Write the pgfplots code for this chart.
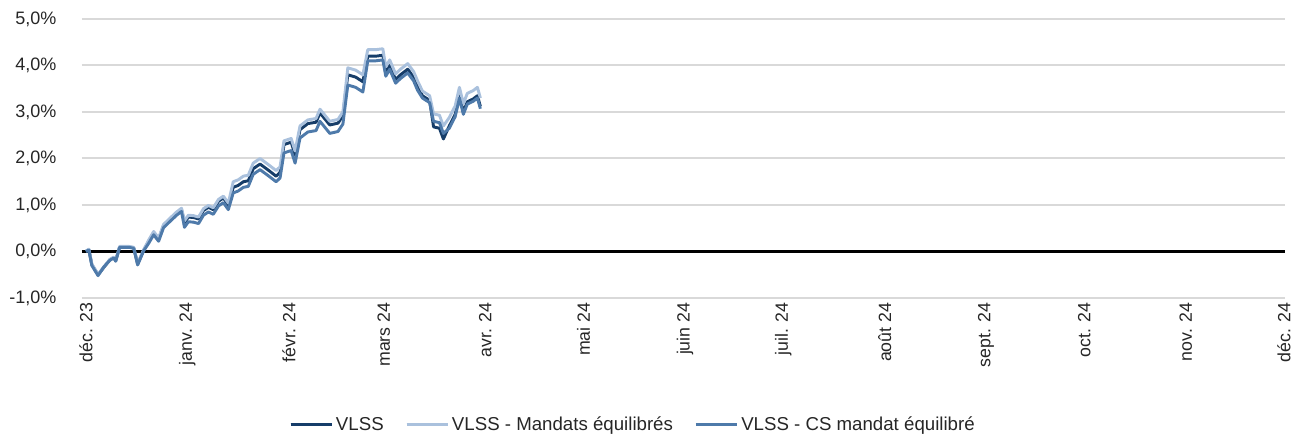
\documentclass[border=0pt]{standalone}
\usepackage{pgfplots}
\pgfplotsset{compat=1.18}
\usepackage{fontspec}
\setmainfont{Liberation Sans}
\definecolor{cDark}{RGB}{22,61,105}
\definecolor{cLight}{RGB}{170,193,221}
\definecolor{cMid}{RGB}{78,122,170}
\definecolor{cGrid}{RGB}{217,217,217}
\definecolor{cText}{RGB}{38,38,38}
\begin{document}
\begin{tikzpicture}
\begin{axis}[
  scale only axis, width=902.25pt, height=209.25pt,
  xmin=-1.2, xmax=366.3, ymin=-1, ymax=5,
  axis line style={draw=none},
  tick style={draw=none},
  major tick length=0pt,
  ytick={-1,0,1,2,3,4,5},
  yticklabels={{-1,0\%},{0,0\%},{1,0\%},{2,0\%},{3,0\%},{4,0\%},{5,0\%}},
  xtick={0,31,62,91,122,152,183,213,244,275,305,336,366},
  xticklabels={déc. 23,janv. 24,févr. 24,mars 24,avr. 24,mai 24,juin 24,juil. 24,août 24,sept. 24,oct. 24,nov. 24,déc. 24},
  x tick label style={rotate=90, anchor=east, font=\fontsize{13.3}{15}\selectfont, text=cText},
  y tick label style={font=\fontsize{13.5}{15}\selectfont, text=cText, xshift=-15.6pt},
  ymajorgrids, grid style={cGrid, line width=1.5pt},
  legend columns=3,
  legend style={at={(0.4582,-0.455)}, anchor=center, draw=none, fill=none,
    font=\fontsize{14}{16}\selectfont, text=cText,
    /tikz/every even column/.append style={column sep=14pt}},
  legend image code/.code={\draw[#1, line width=2.2pt] (0pt,0pt) -- (26pt,0pt); \path (0pt,0pt) -- (31pt,0pt);},
  every axis plot/.append style={line width=2.2pt, line join=round},
]
\addplot[black, line width=2.4pt, forget plot] coordinates {(-1.2,0) (366.3,0)};
\addplot[cDark] coordinates {
(0,0.00) (0.9,0.04) (1.8,-0.28) (3.7,-0.50) (5.5,-0.34) (7.3,-0.18) (8.5,-0.13) (9.1,-0.20)
(10.3,0.10) (13.1,0.10) (14.6,0.08) (15.8,-0.27) (17.6,0.02) (19.2,0.22) (20.7,0.40) (22.2,0.26)
(23.7,0.55) (25.3,0.66) (27.7,0.82) (29.2,0.90) (30.1,0.62) (31.3,0.74) (32.9,0.73) (34.4,0.70)
(35.9,0.88) (37.4,0.95) (38.9,0.90) (40.5,1.08) (42.0,1.15) (43.5,1.00) (45.0,1.38) (46.5,1.42)
(48.1,1.50) (49.6,1.52) (51.1,1.78) (53.2,1.88) (55.7,1.75) (58.1,1.62) (59.3,1.70) (60.5,2.30)
(62.7,2.35) (63.9,2.08) (65.4,2.62) (67.8,2.75) (70.3,2.78) (71.5,2.98) (73.0,2.85) (74.5,2.72)
(77.0,2.76) (78.5,2.92) (80.0,3.80) (82.4,3.75) (84.6,3.65) (86.1,4.20) (88.5,4.20) (90.7,4.22)
(91.6,3.85) (92.8,4.00) (94.6,3.70) (96.1,3.80) (98.3,3.92) (100.1,3.75) (101.3,3.55) (102.8,3.35)
(105.0,3.25) (106.2,2.68) (108.0,2.65) (109.2,2.42) (111.0,2.70) (112.8,2.95) (114.1,3.35) (115.3,3.00)
(116.5,3.22) (118.3,3.28) (119.6,3.35) (120.5,3.12)
};
\addlegendentry{VLSS}
\addplot[cLight] coordinates {
(0,0.01) (0.9,0.05) (1.8,-0.27) (3.7,-0.49) (5.5,-0.33) (7.3,-0.17) (8.5,-0.12) (9.1,-0.19)
(10.3,0.11) (13.1,0.11) (14.6,0.09) (15.8,-0.26) (17.6,0.03) (19.2,0.25) (20.7,0.43) (22.2,0.29)
(23.7,0.58) (25.3,0.69) (27.7,0.85) (29.2,0.93) (30.1,0.66) (31.3,0.78) (32.9,0.77) (34.4,0.74)
(35.9,0.92) (37.4,0.99) (38.9,0.94) (40.5,1.12) (42.0,1.19) (43.5,1.04) (45.0,1.50) (46.5,1.54)
(48.1,1.62) (49.6,1.64) (51.1,1.90) (53.2,2.00) (55.7,1.87) (58.1,1.74) (59.3,1.82) (60.5,2.38)
(62.7,2.43) (63.9,2.16) (65.4,2.70) (67.8,2.83) (70.3,2.86) (71.5,3.06) (73.0,2.93) (74.5,2.80)
(77.0,2.84) (78.5,3.00) (80.0,3.95) (82.4,3.90) (84.6,3.80) (86.1,4.34) (88.5,4.34) (90.7,4.36)
(91.6,3.97) (92.8,4.12) (94.6,3.82) (96.1,3.92) (98.3,4.04) (100.1,3.87) (101.3,3.67) (102.8,3.45)
(105.0,3.35) (106.2,2.96) (108.0,2.93) (109.2,2.70) (111.0,2.88) (112.8,3.13) (114.1,3.53) (115.3,3.18)
(116.5,3.40) (118.3,3.46) (119.6,3.53) (120.5,3.30)
};
\addlegendentry{VLSS - Mandats équilibrés}
\addplot[cMid] coordinates {
(0,0.00) (0.9,0.03) (1.8,-0.30) (3.7,-0.52) (5.5,-0.33) (7.3,-0.19) (8.5,-0.14) (9.1,-0.21)
(10.3,0.09) (13.1,0.09) (14.6,0.07) (15.8,-0.29) (17.6,0.01) (19.2,0.18) (20.7,0.36) (22.2,0.22)
(23.7,0.51) (25.3,0.62) (27.7,0.78) (29.2,0.86) (30.1,0.52) (31.3,0.64) (32.9,0.63) (34.4,0.60)
(35.9,0.78) (37.4,0.85) (38.9,0.80) (40.5,0.98) (42.0,1.05) (43.5,0.90) (45.0,1.26) (46.5,1.30)
(48.1,1.38) (49.6,1.40) (51.1,1.66) (53.2,1.76) (55.7,1.63) (58.1,1.50) (59.3,1.58) (60.5,2.12)
(62.7,2.17) (63.9,1.90) (65.4,2.44) (67.8,2.57) (70.3,2.60) (71.5,2.80) (73.0,2.67) (74.5,2.54)
(77.0,2.58) (78.5,2.74) (80.0,3.58) (82.4,3.53) (84.6,3.43) (86.1,4.10) (88.5,4.10) (90.7,4.12)
(91.6,3.77) (92.8,3.92) (94.6,3.62) (96.1,3.72) (98.3,3.84) (100.1,3.67) (101.3,3.47) (102.8,3.30)
(105.0,3.20) (106.2,2.80) (108.0,2.77) (109.2,2.54) (111.0,2.65) (112.8,2.90) (114.1,3.30) (115.3,2.95)
(116.5,3.17) (118.3,3.23) (119.6,3.30) (120.5,3.07)
};
\addlegendentry{VLSS - CS mandat équilibré}
\coordinate (bbA) at (rel axis cs:-0.06816,1.0681);
\coordinate (bbB) at (rel axis cs:1.00665,-0.48746);
\end{axis}
\pgfresetboundingbox
\path (bbA) rectangle (bbB);
\end{tikzpicture}
\end{document}
